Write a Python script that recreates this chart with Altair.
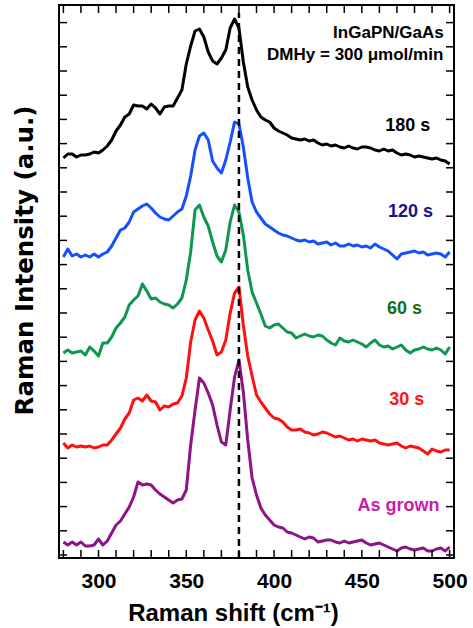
import altair as alt
import pandas as pd

# Raman shift grid (cm^-1), 2.5 cm^-1 steps from 280 to 500
SHIFT = [280.0 + 2.5 * i for i in range(89)]

# stacked intensities (a.u.)
S180 = [397, 401, 401, 398, 400, 400, 401, 403, 402, 405,
        409, 415, 424, 430, 438, 441, 450, 449, 449, 446,
        451, 447, 441, 448, 449, 449, 457, 465, 491, 509,
        524, 526, 518, 503, 494, 491, 497, 505, 527, 536,
        527, 493, 468, 455, 445, 438, 435, 433, 427, 424,
        422, 420, 417, 416, 415, 416, 414, 415, 412, 410,
        411, 409, 410, 408, 407, 409, 407, 406, 408, 408,
        407, 405, 404, 406, 404, 405, 402, 400, 401, 400,
        398, 399, 398, 397, 396, 397, 395, 394, 391]
S120 = [298, 306, 299, 301, 298, 300, 298, 301, 298, 301,
        303, 309, 317, 325, 327, 333, 343, 346, 349, 351,
        347, 342, 338, 336, 335, 339, 343, 346, 359, 379,
        405, 419, 422, 415, 394, 387, 382, 395, 413, 433,
        431, 408, 377, 353, 343, 337, 331, 328, 325, 322,
        320, 319, 317, 315, 314, 315, 313, 314, 311, 312,
        313, 310, 312, 309, 309, 311, 309, 310, 308, 309,
        307, 311, 308, 306, 304, 300, 296, 301, 302, 303,
        304, 302, 303, 300, 301, 302, 301, 298, 303]
S60 = [202, 205, 202, 203, 204, 200, 208, 204, 199, 212,
       212, 218, 227, 232, 238, 250, 255, 259, 271, 264,
       256, 257, 253, 251, 250, 247, 251, 257, 275, 303,
       345, 350, 338, 329, 313, 299, 293, 305, 333, 350,
       343, 320, 285, 263, 252, 241, 229, 227, 230, 231,
       227, 223, 222, 217, 219, 221, 219, 218, 220, 219,
       215, 212, 210, 217, 214, 213, 215, 213, 211, 208,
       212, 215, 210, 208, 209, 206, 208, 210, 205, 202,
       205, 206, 208, 206, 205, 207, 205, 201, 208]
S30 = [112, 107, 110, 108, 109, 108, 109, 107, 108, 110,
       110, 115, 121, 127, 136, 142, 155, 157, 154, 160,
       154, 153, 145, 149, 148, 151, 152, 159, 177, 213,
       235, 244, 237, 225, 214, 200, 203, 215, 242, 262,
       268, 230, 199, 179, 160, 153, 147, 141, 137, 136,
       133, 128, 125, 125, 126, 123, 122, 120, 121, 123,
       122, 120, 118, 119, 117, 115, 116, 114, 116, 115,
       114, 115, 112, 111, 110, 111, 112, 109, 107, 109,
       108, 107, 104, 101, 106, 104, 103, 105, 105]
S0 = [13, 10, 13, 10, 13, 9, 9, 10, 16, 10,
      14, 22, 30, 34, 41, 48, 58, 73, 70, 71,
      70, 65, 61, 58, 55, 52, 55, 56, 65, 110,
      145, 177, 172, 162, 150, 130, 113, 110, 145, 178,
      195, 163, 115, 77, 60, 47, 40, 35, 30, 28,
      27, 23, 22, 20, 18, 16, 18, 17, 13, 14,
      15, 15, 13, 12, 14, 12, 13, 14, 15, 12,
      10, 11, 12, 10, 8, 6, 4, 7, 8, 6,
      5, 6, 7, 4, 4, 6, 7, 4, 8]

SERIES = ["180 s", "120 s", "60 s", "30 s", "As grown"]
LINE_COLORS = ["#000000", "#1450ff", "#109650", "#ff1010", "#8c1487"]
LABEL_COLORS = ["#000000", "#14148c", "#146e14", "#ff1414", "#c81eaa"]
LABEL_X = [489.0, 490.5, 484.3, 485.6, 494.3]
LABEL_Y = [429, 343, 246, 155, 49]

NOTE_TEXT = ["InGaPN/GaAs", "DMHy = 300 \u03bcmol/min"]
NOTE_X = [496.6, 496.4]
NOTE_Y = [522, 500]

PEAK_LINE_X = 380
PEAK_LINE_Y = [-3, 542]

X_DOMAIN = [277.5, 502.5]
Y_DOMAIN = [-3, 550]
X_LABELS = [300, 350, 400, 450, 500]
X_TICKS = list(range(280, 501, 10))
Y_TICKS = [i * 24.2 for i in range(23)]

FONT = "Liberation Sans"

rows = []
for name, col, vals in zip(SERIES, LINE_COLORS, [S180, S120, S60, S30, S0]):
    assert len(vals) == len(SHIFT), name
    for x, v in zip(SHIFT, vals):
        rows.append({"shift": x, "I": v, "series": name, "col": col})
df = pd.DataFrame(rows)

XS = alt.Scale(domain=X_DOMAIN, nice=False, zero=False)
YS = alt.Scale(domain=Y_DOMAIN, nice=False, zero=False)

lines = alt.Chart(df).mark_line(strokeWidth=3, strokeJoin="round").encode(
    x=alt.X("shift:Q", scale=XS, axis=alt.Axis(
        values=X_LABELS, grid=False, domain=False, ticks=False, tickSize=0,
        labelFont=FONT, labelFontSize=21, labelFontWeight="bold", labelColor="black",
        labelPadding=12, labelFlush=False,
        title="Raman shift (cm\u207b\u00b9)", titleFont=FONT, titleFontSize=24,
        titleFontWeight="bold", titleColor="black",
        titleX=174, titleY=55, titleAlign="center", titleBaseline="middle")),
    y=alt.Y("I:Q", scale=YS, axis=alt.Axis(
        grid=False, domain=False, ticks=False, labels=False,
        title="Raman Intensity (a.u.)", titleFont="DejaVu Sans", titleFontSize=24.5,
        titleFontWeight="bold", titleColor="black",
        titleX=-34, titleY=255, titleAlign="center", titleBaseline="middle")),
    color=alt.Color("col:N", scale=None),
    detail="series:N",
)

dash = alt.Chart(pd.DataFrame({"x": [PEAK_LINE_X], "y": [PEAK_LINE_Y[0]], "y2": [PEAK_LINE_Y[1]]})).mark_rule(
    color="black", strokeWidth=2.5, strokeDash=[7, 5]
).encode(x=alt.X("x:Q", scale=XS), y=alt.Y("y:Q", scale=YS), y2="y2:Q")

xt = pd.DataFrame({"t": X_TICKS})
yt = pd.DataFrame({"t": Y_TICKS})
tick_b = alt.Chart(xt).mark_rule(color="black", strokeWidth=1.5).encode(
    x=alt.X("t:Q", scale=XS), y=alt.value(553), y2=alt.value(545))
tick_t = alt.Chart(xt).mark_rule(color="black", strokeWidth=1.5).encode(
    x=alt.X("t:Q", scale=XS), y=alt.value(0), y2=alt.value(8))
tick_l = alt.Chart(yt).mark_rule(color="black", strokeWidth=1.5).encode(
    y=alt.Y("t:Q", scale=YS), x=alt.value(0), x2=alt.value(8))
tick_r = alt.Chart(yt).mark_rule(color="black", strokeWidth=1.5).encode(
    y=alt.Y("t:Q", scale=YS), x=alt.value(395), x2=alt.value(387))

labels = alt.Chart(pd.DataFrame({"x": LABEL_X, "y": LABEL_Y, "t": SERIES, "c": LABEL_COLORS})).mark_text(
    align="right", baseline="middle", font=FONT, fontSize=18, fontWeight="bold"
).encode(x=alt.X("x:Q", scale=XS), y=alt.Y("y:Q", scale=YS), text="t:N", color=alt.Color("c:N", scale=None))

notes = alt.Chart(pd.DataFrame({"x": NOTE_X, "y": NOTE_Y, "t": NOTE_TEXT})).mark_text(
    align="right", baseline="middle", font=FONT, fontSize=17, fontWeight="bold", color="black"
).encode(x=alt.X("x:Q", scale=XS), y=alt.Y("y:Q", scale=YS), text="t:N")

chart = alt.layer(lines, dash, tick_b, tick_t, tick_l, tick_r, labels, notes).properties(
    width=395, height=553,
    autosize=alt.AutoSizeParams(type="none"),
    padding={"left": 59, "top": 5, "right": 19, "bottom": 70},
    background="white",
).configure_view(stroke="black", strokeWidth=2)

chart.save("out.html", embed_options={"renderer": "svg", "actions": False})
